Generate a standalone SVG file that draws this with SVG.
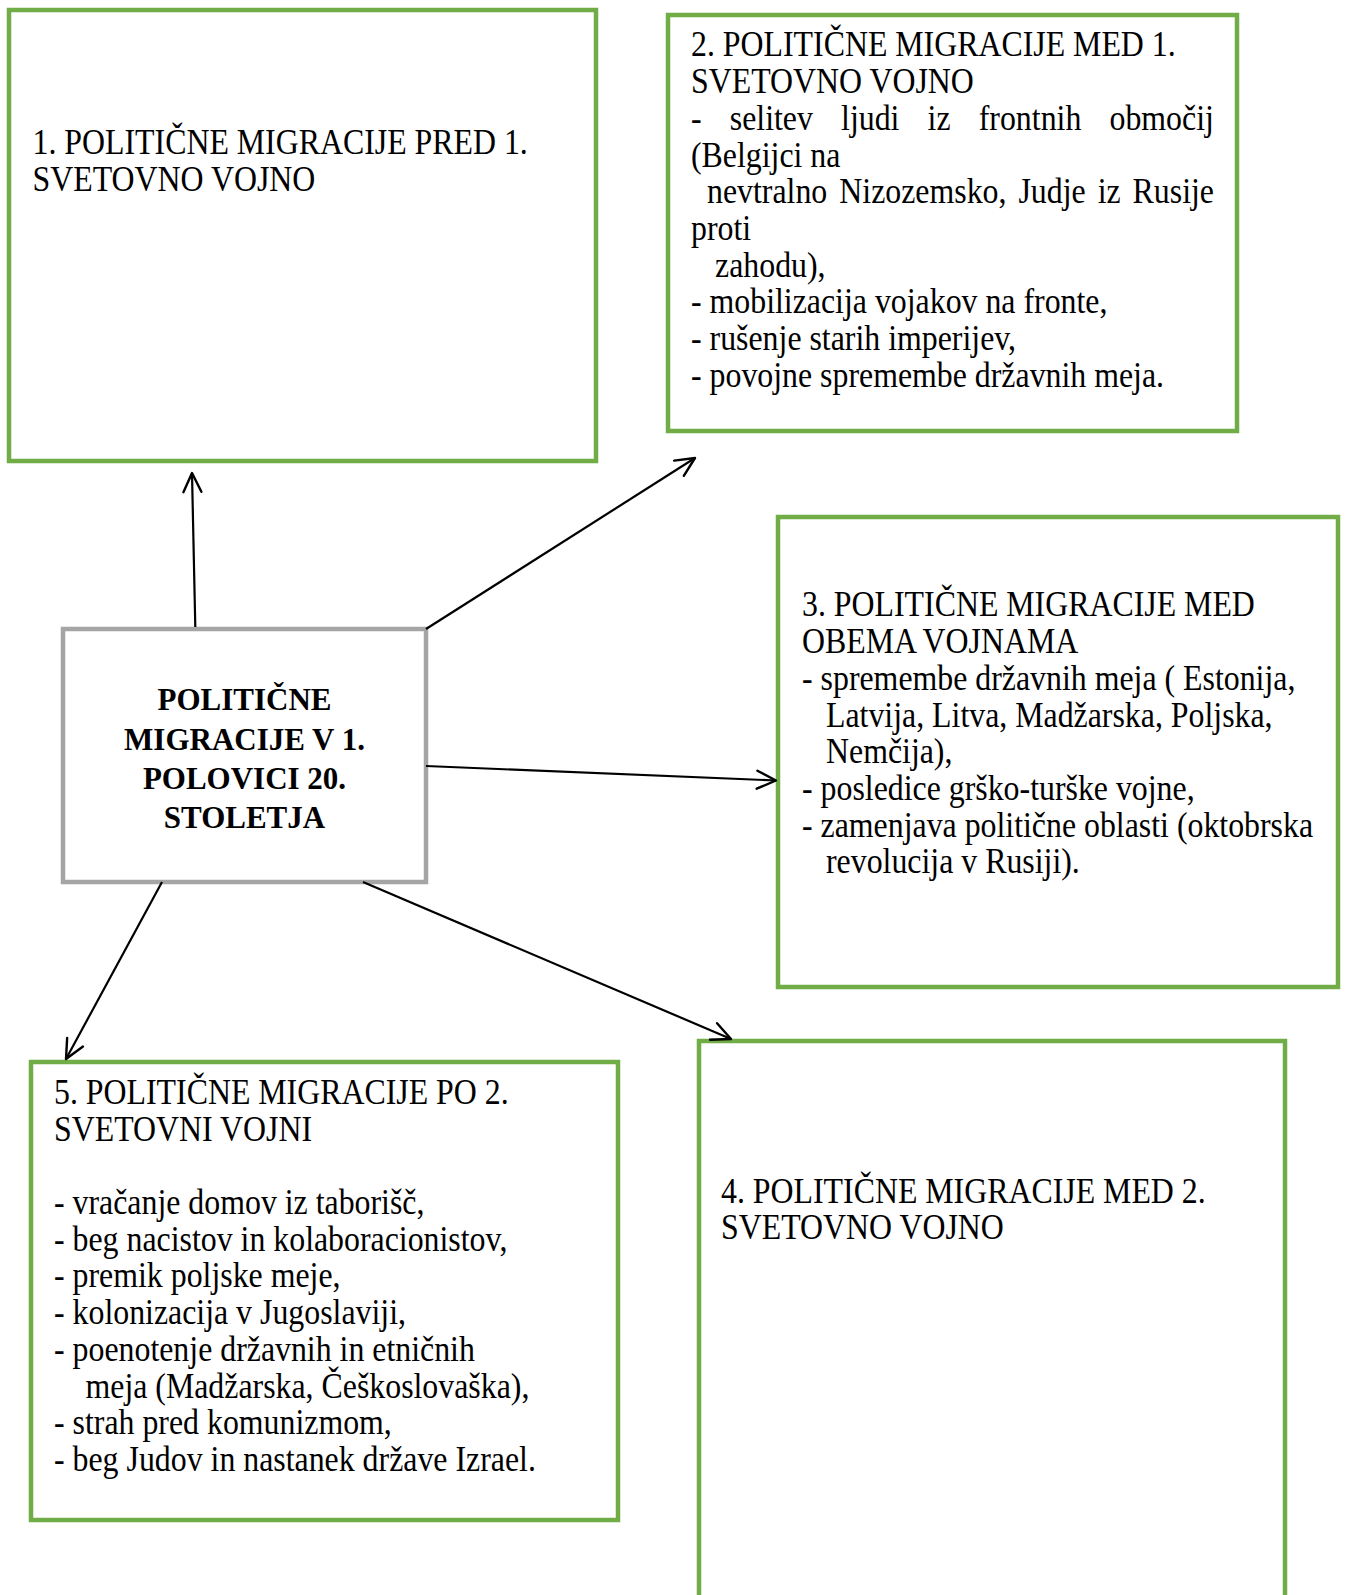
<svg xmlns="http://www.w3.org/2000/svg" width="1347" height="1595" viewBox="0 0 1347 1595">
<style>
.box{fill:#ffffff;stroke:#70AD47;stroke-width:4.5}
.center{fill:#ffffff;stroke:#A5A5A5;stroke-width:4.5}
.t{font-family:"Liberation Serif","Times New Roman",serif;font-size:35px;fill:#000000}
.ct{font-family:"Liberation Serif","Times New Roman",serif;font-size:31px;font-weight:bold;fill:#000000;text-anchor:middle}
.conn{stroke:#000000;stroke-width:2.2;fill:none;marker-end:url(#arr)}
</style>
<defs>
<marker id="arr" markerUnits="userSpaceOnUse" markerWidth="22" markerHeight="22" refX="20" refY="10" orient="auto" overflow="visible">
<path d="M1 1 L20 10 L1 19" fill="none" stroke="#000000" stroke-width="2.4" stroke-linejoin="round" stroke-linecap="round"/>
</marker>
</defs>
<rect x="0" y="0" width="1347" height="1595" fill="#ffffff"/>

<g id="node-1">
<rect class="box" x="9" y="10" width="587" height="451"/>
<g transform="translate(32.5 0) scale(0.91 1)">
<text class="t" x="0" y="154">1. POLITIČNE MIGRACIJE PRED 1.</text>
<text class="t" x="0" y="191">SVETOVNO VOJNO</text>
</g>
</g>

<g id="node-2">
<rect class="box" x="668" y="15" width="569" height="416"/>
<g transform="translate(691 0) scale(0.91 1)">
<text class="t" x="0" y="56.5">2. POLITIČNE MIGRACIJE MED 1.</text>
<text class="t" x="0" y="93.2">SVETOVNO VOJNO</text>
<text class="t" y="129.9"><tspan x="0">-</tspan><tspan x="42.6">selitev</tspan><tspan x="164.9">ljudi</tspan><tspan x="260">iz</tspan><tspan x="316.2">frontnih</tspan><tspan x="459.9">območij</tspan></text>
<text class="t" x="0" y="166.6">(Belgijci na</text>
<text class="t" y="203.3"><tspan x="17.6">nevtralno</tspan><tspan x="163">Nizozemsko,</tspan><tspan x="359.8">Judje</tspan><tspan x="446.9">iz</tspan><tspan x="485.3">Rusije</tspan></text>
<text class="t" x="0" y="240">proti</text>
<text class="t" x="26.4" y="276.7">zahodu),</text>
<text class="t" x="0" y="313.4">- mobilizacija vojakov na fronte,</text>
<text class="t" x="0" y="350.1">- rušenje starih imperijev,</text>
<text class="t" x="0" y="386.8">- povojne spremembe državnih meja.</text>
</g>
</g>

<g id="node-3">
<rect class="box" x="778" y="517" width="560" height="470"/>
<g transform="translate(802 0) scale(0.91 1)">
<text class="t" x="0" y="616.5">3. POLITIČNE MIGRACIJE MED</text>
<text class="t" x="0" y="653.2">OBEMA VOJNAMA</text>
<text class="t" x="0" y="689.9">- spremembe državnih meja ( Estonija,</text>
<text class="t" x="26.4" y="726.6">Latvija, Litva, Madžarska, Poljska,</text>
<text class="t" x="26.4" y="763.3">Nemčija),</text>
<text class="t" x="0" y="800">- posledice grško-turške vojne,</text>
<text class="t" x="0" y="836.7">- zamenjava politične oblasti (oktobrska</text>
<text class="t" x="26.4" y="873.4">revolucija v Rusiji).</text>
</g>
</g>

<g id="node-4">
<rect class="box" x="699" y="1041" width="586" height="620"/>
<g transform="translate(721 0) scale(0.91 1)">
<text class="t" x="0" y="1202.6">4. POLITIČNE MIGRACIJE MED 2.</text>
<text class="t" x="0" y="1239.3">SVETOVNO VOJNO</text>
</g>
</g>

<g id="node-5">
<rect class="box" x="31" y="1062" width="587" height="458"/>
<g transform="translate(54 0) scale(0.91 1)">
<text class="t" x="0" y="1104">5. POLITIČNE MIGRACIJE PO 2.</text>
<text class="t" x="0" y="1140.7">SVETOVNI VOJNI</text>
<text class="t" x="0" y="1214.1">- vračanje domov iz taborišč,</text>
<text class="t" x="0" y="1250.8">- beg nacistov in kolaboracionistov,</text>
<text class="t" x="0" y="1287.5">- premik poljske meje,</text>
<text class="t" x="0" y="1324.2">- kolonizacija v Jugoslaviji,</text>
<text class="t" x="0" y="1360.9">- poenotenje državnih in etničnih</text>
<text class="t" x="34.6" y="1397.6">meja (Madžarska, Češkoslovaška),</text>
<text class="t" x="0" y="1434.3">- strah pred komunizmom,</text>
<text class="t" x="0" y="1471">- beg Judov in nastanek države Izrael.</text>
</g>
</g>

<g id="node-center">
<rect class="center" x="63" y="629" width="363" height="253"/>
<text class="ct" x="244.5" y="710">POLITIČNE</text>
<text class="ct" x="244.5" y="749.5">MIGRACIJE V 1.</text>
<text class="ct" x="244.5" y="788.5">POLOVICI 20.</text>
<text class="ct" x="244.5" y="828">STOLETJA</text>
</g>

<g id="connectors">
<line class="conn" x1="195.3" y1="627" x2="192" y2="473"/>
<line class="conn" x1="426" y1="629" x2="695" y2="458"/>
<line class="conn" x1="426" y1="766" x2="776" y2="780.5"/>
<line class="conn" x1="363" y1="882" x2="731" y2="1039"/>
<line class="conn" x1="162" y1="882" x2="66" y2="1059"/>
</g>
</svg>
